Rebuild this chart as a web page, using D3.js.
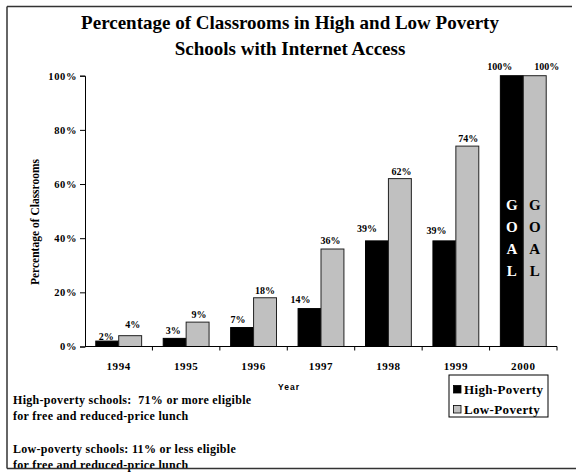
<!DOCTYPE html>
<html>
<head>
<meta charset="utf-8">
<script src="https://cdn.jsdelivr.net/npm/d3@7"></script>
<style>
  html, body { margin: 0; padding: 0; background: #fff; }
  svg { display: block; }
  text { white-space: pre; }
</style>
</head>
<body>
<svg id="chart" width="576" height="472"></svg>
<script>
// ---- data ----
const years = ["1994", "1995", "1996", "1997", "1998", "1999", "2000"];
const seriesNames = ["High-Poverty", "Low-Poverty"];
const highPoverty = [2, 3, 7, 14, 39, 39, 100];
const lowPoverty = [4, 9, 18, 36, 62, 74, 100];
const yTicks = [0, 20, 40, 60, 80, 100];
const goalYear = "2000";
const titleLines = ["Percentage of Classrooms in High and Low Poverty", "Schools with Internet Access"];
const notes = [
  "High-poverty schools:  71% or more eligible",
  "for free and reduced-price lunch",
  "",
  "Low-poverty schools: 11% or less eligible",
  "for free and reduced-price lunch"
];

// ---- drawing ----
const svg = d3.select("#chart");
const serif = "'Liberation Serif', 'Times New Roman', serif";
const sans = "'Liberation Sans', Arial, sans-serif";
const colors = ["#000000", "#c0c0c0"];
const seriesVals = [highPoverty, lowPoverty];

const x = d3.scaleBand().domain(years).range([85, 557]).paddingInner(0.32).paddingOuter(0.16);
const xOuter = d3.scaleBand().domain(years).range([85, 557]);
const xs = d3.scaleBand().domain([0, 1]).range([0, x.bandwidth()]);
const y = d3.scaleLinear().domain([0, 100]).range([346.5, 75.7]);

// title
svg.append("g").selectAll("text").data(titleLines).join("text")
  .attr("x", 290).attr("y", (d, i) => 29 + i * 26)
  .attr("text-anchor", "middle")
  .style("font-family", serif).style("font-weight", "bold").style("font-size", "19px")
  .text(d => d);

// bars
const barG = svg.append("g");
seriesVals.forEach((vals, s) => {
  barG.selectAll(null).data(years).join("rect")
    .attr("x", d => x(d) + xs(s))
    .attr("y", (d, i) => y(vals[i]))
    .attr("width", xs.bandwidth())
    .attr("height", (d, i) => y(0) - y(vals[i]))
    .attr("fill", colors[s])
    .attr("stroke", s === 0 ? "#000" : "#222")
    .attr("stroke-width", 1);
});

// value labels (small placement nudges as in the original)
const nudge = [
  [[-1, 0], [-1.5, -3], [-4, -4], [-9, -5], [-10, -8], [-8, -6], [-12, -5]],
  [[2.5, -7], [1.3, -3], [0, -3], [-2, -4], [1.7, -3], [1, -3], [12, -5]]
];
seriesVals.forEach((vals, s) => {
  svg.append("g").selectAll("text").data(years).join("text")
    .attr("x", (d, i) => x(d) + xs(s) + xs.bandwidth() / 2 + nudge[s][i][0])
    .attr("y", (d, i) => y(vals[i]) - 1 + nudge[s][i][1])
    .attr("text-anchor", "middle")
    .style("font-family", serif).style("font-weight", "bold").style("font-size", "10px")
    .text((d, i) => vals[i] + "%");
});

// GOAL text
seriesVals.forEach((vals, s) => {
  const letters = "GOAL".split("");
  svg.append("g").selectAll("text").data(letters).join("text")
    .attr("x", x(goalYear) + xs(s) + xs.bandwidth() / 2)
    .attr("y", (d, i) => 210 + i * 22)
    .attr("text-anchor", "middle")
    .attr("fill", s === 0 ? "#fff" : "#000")
    .style("font-family", serif).style("font-weight", "bold").style("font-size", "15px")
    .text(d => d);
});

// y axis
const yAxis = d3.axisLeft(y).tickValues(yTicks).tickFormat(d => d + "%").tickSize(5).tickPadding(3);
const yg = svg.append("g").attr("transform", "translate(85,0)").call(yAxis);
yg.select(".domain").attr("stroke", "#000");
yg.selectAll("text").style("font-family", serif).style("font-weight", "bold").style("font-size", "10.5px").style("letter-spacing", "0.6px");

// x axis (ticks at category boundaries)
const xAxisG = svg.append("g").attr("transform", `translate(0,${y(0)})`);
xAxisG.append("line").attr("x1", 85).attr("x2", 557).attr("stroke", "#000");
xAxisG.selectAll("line.tk").data(years.slice(1).concat(["end"])).join("line")
  .attr("class", "tk")
  .attr("x1", (d, i) => i < years.length - 1 ? xOuter(d) : 557)
  .attr("x2", (d, i) => i < years.length - 1 ? xOuter(d) : 557)
  .attr("y1", 0).attr("y2", 4).attr("stroke", "#000");
xAxisG.selectAll("text").data(years).join("text")
  .attr("x", d => xOuter(d) + xOuter.bandwidth() / 2)
  .attr("y", 23)
  .attr("text-anchor", "middle")
  .style("font-family", serif).style("font-weight", "bold").style("font-size", "11px").style("letter-spacing", "0.6px")
  .text(d => d);

// axis titles
svg.append("text")
  .attr("transform", "translate(39,222) rotate(-90)")
  .attr("text-anchor", "middle")
  .style("font-family", serif).style("font-weight", "bold").style("font-size", "11.5px")
  .text("Percentage of Classrooms");
svg.append("text")
  .attr("x", 289).attr("y", 390)
  .attr("text-anchor", "middle")
  .style("font-family", sans).style("font-weight", "bold").style("font-size", "8.5px").style("letter-spacing", "1px")
  .text("Year");

// legend
const lg = svg.append("g").attr("transform", "translate(449,375)");
lg.append("rect").attr("width", 99).attr("height", 42).attr("fill", "#fff").attr("stroke", "#000").attr("stroke-width", 1);
const li = lg.selectAll("g").data(seriesNames).join("g").attr("transform", (d, i) => `translate(4.5,${10.5 + i * 20})`);
li.append("rect").attr("width", 7.5).attr("height", 7.5).attr("fill", (d, i) => colors[i]).attr("stroke", "#000").attr("stroke-width", 0.8);
li.append("text").attr("x", 10.5).attr("y", 8.3)
  .style("font-family", serif).style("font-weight", "bold").style("font-size", "13px").style("letter-spacing", "0.35px")
  .text(d => d);

// notes
svg.append("g").selectAll("text").data(notes).join("text")
  .attr("x", 13).attr("y", (d, i) => 404 + i * 16.3)
  .style("font-family", serif).style("font-weight", "bold").style("font-size", "12px").style("letter-spacing", "0.3px")
  .text(d => d);

// frame
const fr = svg.append("g").attr("stroke", "#333").attr("stroke-width", 1.5).attr("fill", "none");
fr.append("line").attr("x1", 7).attr("x2", 572).attr("y1", 6.5).attr("y2", 6.5);
fr.append("line").attr("x1", 7).attr("x2", 7).attr("y1", 6.5).attr("y2", 468.5);
fr.append("line").attr("x1", 7).attr("x2", 576).attr("y1", 468.5).attr("y2", 468.5);
</script>
</body>
</html>
